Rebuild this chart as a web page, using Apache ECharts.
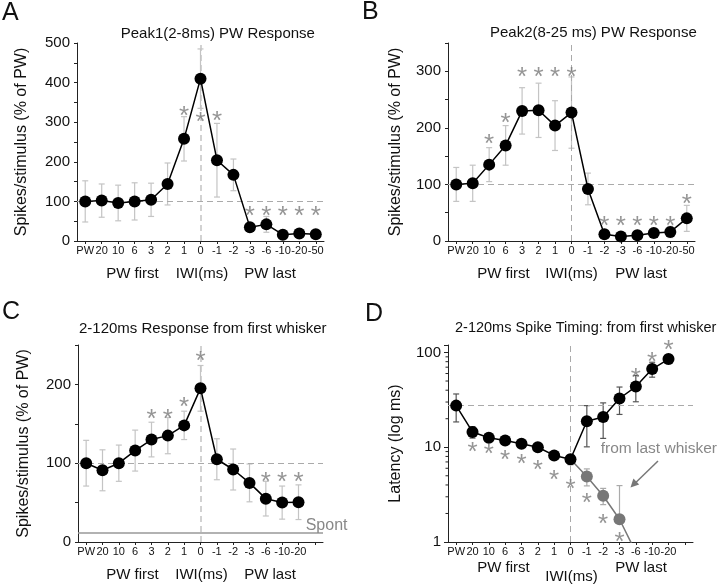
<!DOCTYPE html>
<html><head><meta charset="utf-8">
<script src="https://cdn.jsdelivr.net/npm/echarts@6/dist/echarts.min.js"></script>
<style>html,body{margin:0;padding:0;background:#fff}#c{width:720px;height:585px}</style>
</head><body><div id="c"></div>
<script>
// ---------- data ----------
const categoriesAB = ['PW','20','10','6','3','2','1','0','-1','-2','-3','-6','-10','-20','-50'];
const categoriesCD = ['PW','20','10','6','3','2','1','0','-1','-2','-3','-6','-10','-20',''];

const aValues = [100,102,96,100,104,144,258,410,204,167,35,42,16,19,17];
const aErrors = [52,42,45,47,42,53,56,75,93,40,8,20,6,5,4];
const aStarCats = ['1','0','-1','-3','-6','-10','-20','-50'];
const aStarY = [331,316,319,78,78,78,78,78];

const bValues = [100,102,135,169,230,231,204,227,92,12,8,10,14,16,40];
const bErrors = [30,32,30,35,41,48,44,63,28,5,4,8,5,10,23];
const bStarCats = ['10','6','3','2','1','0','-2','-3','-6','-10','-20','-50'];
const bStarY = [183,220,300,300,300,300,37,37,37,37,37,76];

const cValues = [100,91,100,116,130,135,148,195,105,92,75,55,50,50.5];
const cErrors = [29,26,23,26,22,23,18,29,26,26,24,22,21,22];
const cStarCats = ['3','2','1','0','-6','-10','-20'];
const cStarY = [164,164,179,238,84,84,84];
const cSpont = 12;

const dValues = [27.5,14.5,12.6,11.8,10.9,10.0,8.2,7.46,18.8,20.9,32.7,43.7,66.9,85.2];
const dErrors = [9,2,0.8,1,0.6,0.5,0.6,0.9,8.7,8.5,10.5,13.5,12,9];
const dLastCats = ['0','-1','-2','-3','-6'];
const dLastValues = [7.46,4.91,3.08,1.74,0.78];
const dLastErrors = [0,1,0.6,2.2,0];
const dStarCats = ['20','10','6','3','2','1','0','-1','-2','-3','-6','-10','-20'];
const dStarY = [10.4,9.9,8.5,7.7,6.7,5.2,4.2,3.0,1.8,1.17,62,93,124];
const dRef = 27.5;
const dMinorTicks = [2,3,4,5,6,7,8,9,20,30,40,50,60,70,80,90];

// ---------- helpers ----------
const FONT = "'Liberation Sans', Arial, sans-serif";
const chart = echarts.init(document.getElementById('c'));

function errData(cats, vals, errs, isLog) {
  return vals.map((v, i) => {
    let lo = v - errs[i];
    if (isLog && lo <= 0) lo = v;
    return [categoriesAB.indexOf(cats[i]), lo, v + errs[i]];
  });
}
function errSeries(idx, data, color) {
  return {
    type: 'custom', xAxisIndex: idx, yAxisIndex: idx, z: 2, silent: true,
    encode: {x: 0, y: [1, 2]},
    renderItem: function (params, api) {
      const x = api.value(0);
      const p1 = api.coord([x, api.value(2)]);
      const p2 = api.coord([x, api.value(1)]);
      const cap = 3;
      const st = {stroke: color, lineWidth: 1.2};
      return {type: 'group', children: [
        {type: 'line', shape: {x1: p1[0], y1: p1[1], x2: p2[0], y2: p2[1]}, style: st},
        {type: 'line', shape: {x1: p1[0]-cap, y1: p1[1], x2: p1[0]+cap, y2: p1[1]}, style: st},
        {type: 'line', shape: {x1: p2[0]-cap, y1: p2[1], x2: p2[0]+cap, y2: p2[1]}, style: st}
      ]};
    },
    data: data
  };
}
function starSeries(idx, cats, ys) {
  return {
    type: 'scatter', xAxisIndex: idx, yAxisIndex: idx, z: 6, silent: true, clip: false,
    symbolSize: 1, itemStyle: {color: 'rgba(0,0,0,0)'},
    label: {show: true, formatter: '*', position: 'inside', color: '#7a7a7a',
      fontSize: 26, fontFamily: FONT, offset: [0, 7]},
    data: cats.map((c, i) => [c, ys[i]])
  };
}
function xAxisCfg(idx, cats) {
  return {
    type: 'category', gridIndex: idx, data: cats, boundaryGap: true,
    axisLine: {lineStyle: {color: '#222', width: 1}},
    axisTick: {show: true, alignWithLabel: true, length: 3, lineStyle: {color: '#222'}},
    axisLabel: {interval: 0, fontSize: 11, color: '#111', fontFamily: FONT, margin: 4},
    splitLine: {show: false}
  };
}
function yAxisCfg(idx, max, name, gap) {
  return {
    type: 'value', gridIndex: idx, min: 0, max: max, interval: 50,
    name: name, nameLocation: 'middle', nameGap: gap, nameRotate: 90,
    nameTextStyle: {fontSize: 16, color: '#111', fontFamily: FONT},
    axisLine: {show: true, lineStyle: {color: '#222', width: 1}},
    axisTick: {show: true, length: 3, lineStyle: {color: '#222'}},
    axisLabel: {fontSize: 15, color: '#111', fontFamily: FONT, margin: 7,
      formatter: v => (v % 100 === 0) ? String(v) : ''},
    splitLine: {show: false}
  };
}
function lineSeries(idx, vals, extraMark) {
  return {
    type: 'line', xAxisIndex: idx, yAxisIndex: idx, z: 5, silent: true,
    data: vals, symbol: 'circle', symbolSize: 12,
    itemStyle: {color: '#000'}, lineStyle: {color: '#000', width: 1.5},
    markLine: {silent: true, symbol: 'none', label: {show: false}, animation: false,
      data: extraMark}
  };
}
const dash = {type: [6, 4], color: '#aaa', width: 1};
const dashV = {type: [6, 4], color: '#c4c4c4', width: 1.5};

function txt(x, y, text, size, opts) {
  opts = opts || {};
  return {type: 'text', x: x, y: y, silent: true, z: 100,
    style: {text: text, font: (opts.weight || 'normal') + ' ' + size + 'px ' + FONT,
      fill: opts.fill || '#111', textAlign: opts.align || 'center', textVerticalAlign: 'middle'}};
}

const option = {
  animation: false,
  backgroundColor: '#fff',
  grid: [
    {left: 77, top: 43, width: 247, height: 198},
    {left: 448, top: 43, width: 247, height: 198},
    {left: 78, top: 345, width: 245, height: 197},
    {left: 448, top: 345, width: 245, height: 197}
  ],
  xAxis: [xAxisCfg(0, categoriesAB), xAxisCfg(1, categoriesAB), xAxisCfg(2, categoriesCD), xAxisCfg(3, categoriesCD)],
  yAxis: [
    yAxisCfg(0, 500, 'Spikes/stimulus (% of PW)', 47),
    yAxisCfg(1, 350, 'Spikes/stimulus (% of PW)', 44),
    yAxisCfg(2, 250, 'Spikes/stimulus (% of PW)', 46),
    {
      type: 'log', gridIndex: 3, min: 1, max: 120, logBase: 10,
      name: 'Latency (log ms)', nameLocation: 'middle', nameGap: 44, nameRotate: 90,
      nameTextStyle: {fontSize: 16, color: '#111', fontFamily: FONT},
      axisLine: {show: true, lineStyle: {color: '#222', width: 1}},
      axisTick: {show: true, length: 4, lineStyle: {color: '#222'}},
      axisLabel: {fontSize: 15, color: '#111', fontFamily: FONT, margin: 7,
        formatter: v => ([1, 10, 100].indexOf(Math.round(v)) >= 0 && Math.abs(v - Math.round(v)) < 1e-6) ? String(Math.round(v)) : ''},
      splitLine: {show: false}
    }
  ],
  series: [
    // Panel A
    errSeries(0, errData(categoriesAB, aValues, aErrors), '#c4c4c4'),
    lineSeries(0, aValues, [{yAxis: 100, lineStyle: dash}, {xAxis: 7, lineStyle: dashV}]),
    starSeries(0, aStarCats, aStarY),
    // Panel B
    errSeries(1, errData(categoriesAB, bValues, bErrors), '#c4c4c4'),
    lineSeries(1, bValues, [{yAxis: 100, lineStyle: dash}, {xAxis: 7, lineStyle: dash}]),
    starSeries(1, bStarCats, bStarY),
    // Panel C
    errSeries(2, errData(categoriesAB, cValues, cErrors), '#c4c4c4'),
    lineSeries(2, cValues, [{yAxis: 100, lineStyle: dash}, {xAxis: 7, lineStyle: dashV},
      {yAxis: cSpont, lineStyle: {type: 'solid', color: '#999', width: 1.5}}]),
    starSeries(2, cStarCats, cStarY),
    // Panel D
    errSeries(3, errData(categoriesAB, dValues, dErrors, true), '#555'),
    errSeries(3, errData(dLastCats, dLastValues, dLastErrors, true).slice(1, 4), '#aaa'),
    {
      type: 'line', xAxisIndex: 3, yAxisIndex: 3, z: 4, silent: true, clip: true,
      data: dLastCats.map((c, i) => ({value: [c, dLastValues[i]], symbol: (i === 0 || i === 4) ? 'none' : 'circle'})),
      symbol: 'circle', symbolSize: 12,
      itemStyle: {color: '#777'}, lineStyle: {color: '#777', width: 1.5}
    },
    lineSeries(3, dValues, [{yAxis: dRef, lineStyle: dash}, {xAxis: 7, lineStyle: dash}]),
    starSeries(3, dStarCats, dStarY),
    {
      type: 'custom', xAxisIndex: 3, yAxisIndex: 3, silent: true, z: 3,
      encode: {x: 0, y: 1},
      renderItem: function (params, api) {
        const p = api.coord([0, api.value(1)]);
        const x0 = params.coordSys.x;
        return {type: 'line', shape: {x1: x0 - 2.5, y1: p[1], x2: x0, y2: p[1]}, style: {stroke: '#222', lineWidth: 1}};
      },
      data: dMinorTicks.map(v => [0, v])
    }
  ],
  graphic: [
    txt(2, 13, 'A', 25, {align: 'left'}),
    txt(362, 12.5, 'B', 25, {align: 'left'}),
    txt(2, 312.5, 'C', 25, {align: 'left'}),
    txt(365, 314, 'D', 25, {align: 'left'}),
    txt(120.7, 34.3, 'Peak1(2-8ms) PW Response', 15, {align: 'left'}),
    txt(490, 33, 'Peak2(8-25 ms) PW Response', 15, {align: 'left'}),
    txt(79, 329.3, '2-120ms Response from first whisker', 15, {align: 'left'}),
    txt(455, 328, '2-120ms Spike Timing: from first whisker', 14.5, {align: 'left'}),
    txt(132.5, 274, 'PW first', 15), txt(202, 274, 'IWI(ms)', 15), txt(270, 274, 'PW last', 15),
    txt(503.5, 274, 'PW first', 15), txt(571.5, 274, 'IWI(ms)', 15), txt(641, 274, 'PW last', 15),
    txt(132.5, 575, 'PW first', 15), txt(201.5, 575, 'IWI(ms)', 15), txt(270, 575, 'PW last', 15),
    txt(503.5, 568, 'PW first', 15), txt(571.5, 577, 'IWI(ms)', 15), txt(641, 568, 'PW last', 15),
    txt(305.7, 526, 'Spont', 16, {align: 'left', fill: '#888'}),
    txt(600.7, 448.3, 'from last whisker', 15.5, {align: 'left', fill: '#888'}),
    {type: 'line', silent: true, z: 100, shape: {x1: 658, y1: 461, x2: 634, y2: 484.2},
      style: {stroke: '#777', lineWidth: 1.5}},
    {type: 'polygon', silent: true, z: 100, shape: {points: [[630.5, 487.5], [633.4, 478.5], [639.2, 484.5]]},
      style: {fill: '#777'}}
  ]
};
chart.setOption(option);
</script>
</body></html>
